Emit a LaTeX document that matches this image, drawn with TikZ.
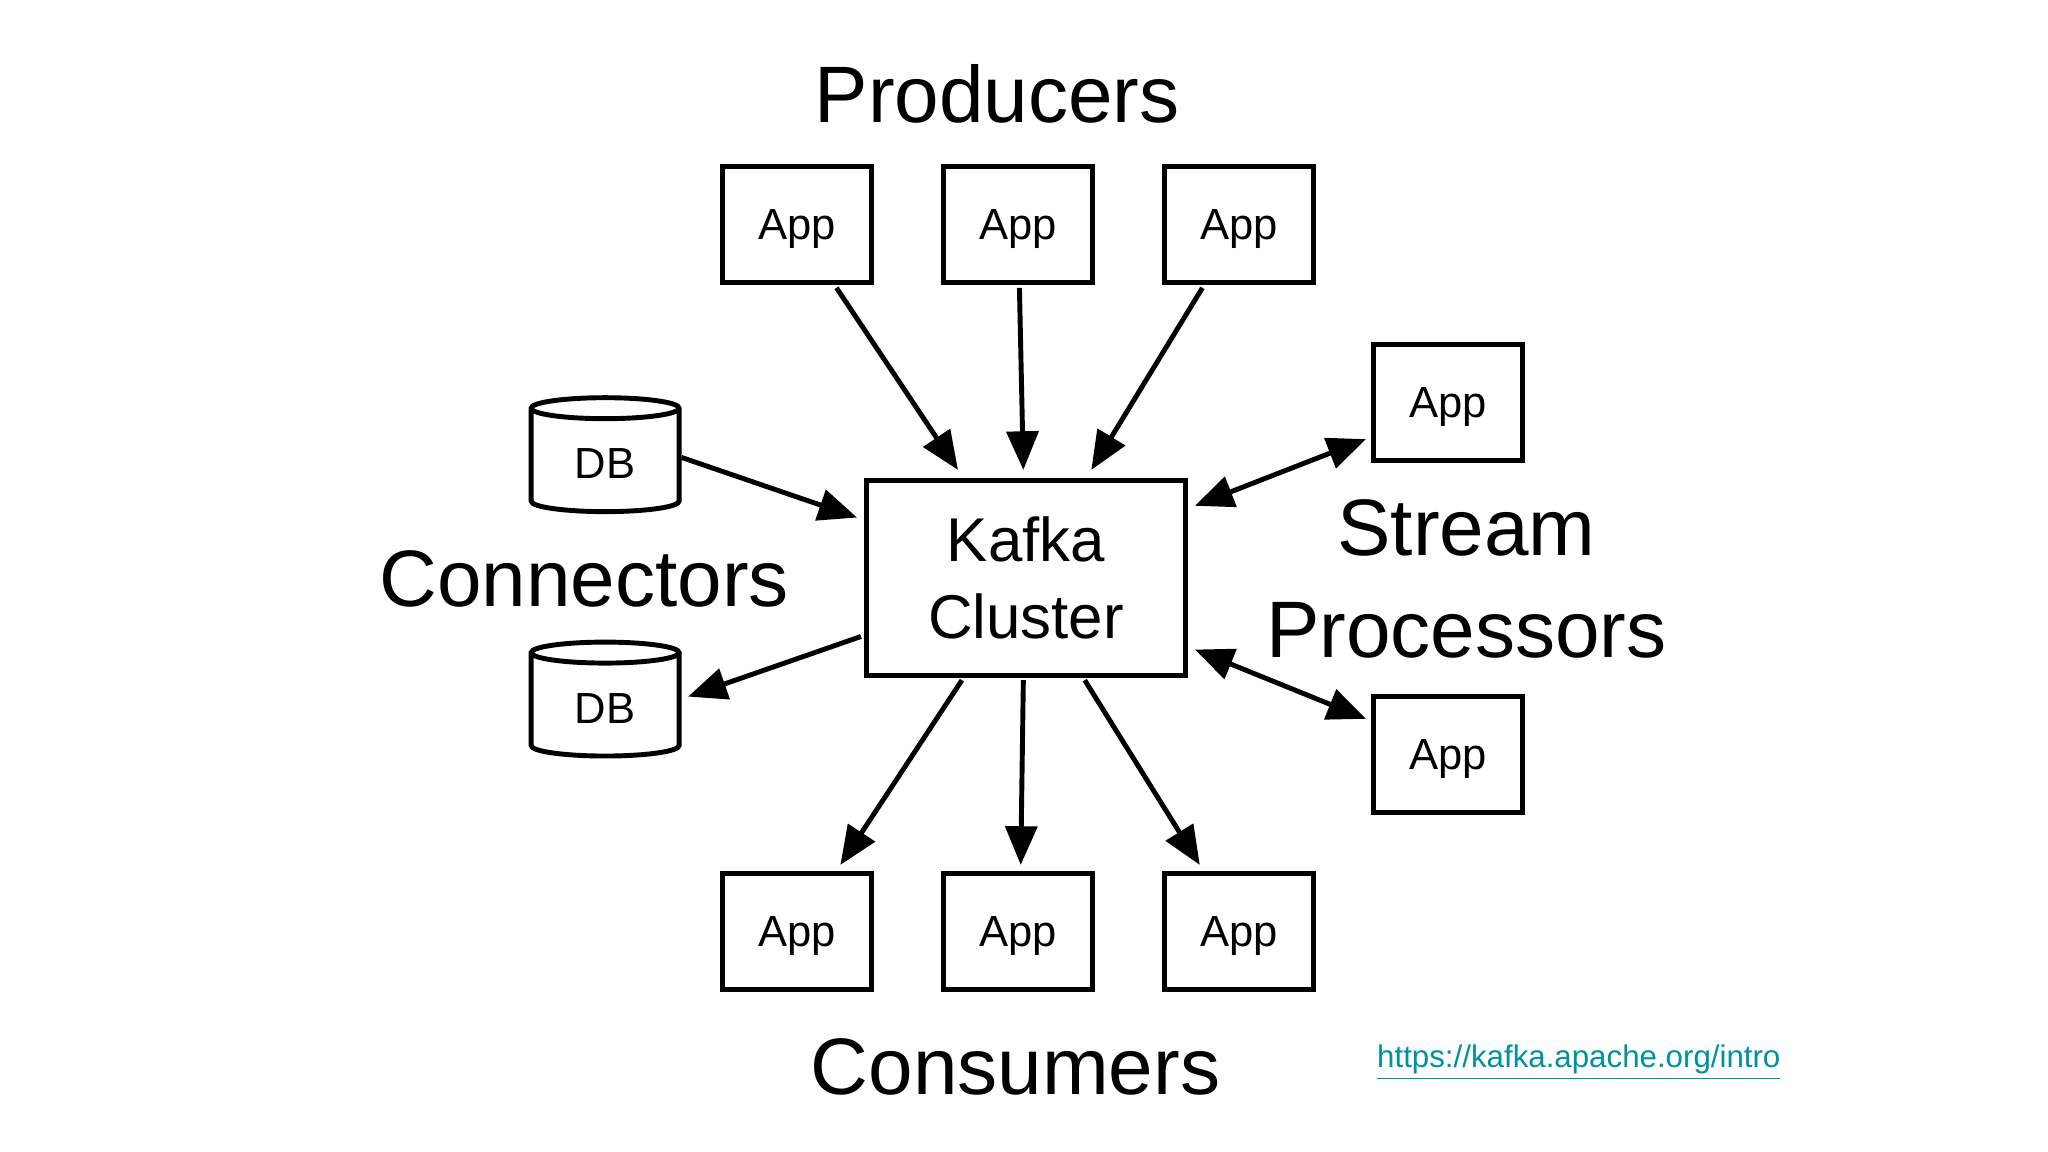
\documentclass[tikz,border=0pt]{standalone}
\usepackage{fontspec}
\setmainfont{Liberation Sans}
\usetikzlibrary{arrows.meta,shapes.geometric,calc}
\definecolor{linkc}{RGB}{0,145,160}
\begin{document}
\begin{tikzpicture}[x=0.01307cm,y=-0.01307cm,
  app/.style={draw,line width=1.4pt,minimum width=1.49cm,minimum height=1.16cm,text depth=0pt,font=\fontsize{12.4}{14}\selectfont},
  db/.style={draw,line width=1.4pt,cylinder,shape border rotate=90,aspect=0.25,minimum width=1.48cm,minimum height=1.14cm,font=\fontsize{12.4}{14}\selectfont},
  big/.style={font=\fontsize{22.8}{26}\selectfont,align=center},
  arr/.style={line width=1.4pt,-{Triangle[length=11pt,width=9pt]}},
  barr/.style={line width=1.4pt,{Triangle[length=11pt,width=9pt]}-{Triangle[length=11pt,width=9pt]}}]
\useasboundingbox (0,0) rectangle (1567,881);
% labels
\node[big] (tp) at (763,72) {Producers};
\node[big] (tc) at (777,816) {Consumers};
\node[big] (tn) at (447,443) {Connectors};
\node[big,font=\fontsize{22.8}{29}\selectfont] (ts) at (1122,443) {Stream\\Processors};
% cluster
\node[draw,line width=1.4pt,minimum width=3.2cm,minimum height=1.95cm,align=center,font=\fontsize{17.6}{22}\selectfont] (k) at (785,442) {Kafka\\Cluster};
% producers
\node[app] (p1) at (610,172) {App};
\node[app] (p2) at (779,172) {App};
\node[app] (p3) at (948,172) {App};
% consumers
\node[app] (c1) at (610,713) {App};
\node[app] (c2) at (779,713) {App};
\node[app] (c3) at (948,713) {App};
% stream processors
\node[app] (s1) at (1108,308) {App};
\node[app] (s2) at (1108,577) {App};
% databases
\node[db] (d1) at (463,355) {DB};
\node[db] (d2) at (463,542) {DB};
% link
\node[text=linkc,font=\fontsize{8.9}{10}\selectfont] (url) at (1208,813) {\underline{https://kafka.apache.org/intro}};
% connectors
\draw[arr] ($(p1.south)+(30,2)$) -- ($(k.north)+(-52,-6)$);
\draw[arr] ($(p2.south)+(1,2)$) -- ($(k.north)+(-2,-6)$);
\draw[arr] ($(p3.south)+(-28,2)$) -- ($(k.north)+(50,-6)$);
\draw[arr] ($(d1.east)+(0,-5)$) -- ($(k.west)+(-5,-46)$);
\draw[arr] ($(k.west)+(-2,45)$) -- ($(d2.east)+(5,-9)$);
\draw[arr] ($(k.south)+(-49,2)$) -- ($(c1.north)+(33,-5)$);
\draw[arr] ($(k.south)+(-2,2)$) -- ($(c2.north)+(2,-5)$);
\draw[arr] ($(k.south)+(45,2)$) -- ($(c3.north)+(-30,-5)$);
\draw[barr] ($(s1.west)+(-4,28)$) -- ($(k.east)+(5,-55)$);
\draw[barr] ($(k.east)+(5,55)$) -- ($(s2.west)+(-4,-27)$);
\end{tikzpicture}
\end{document}
